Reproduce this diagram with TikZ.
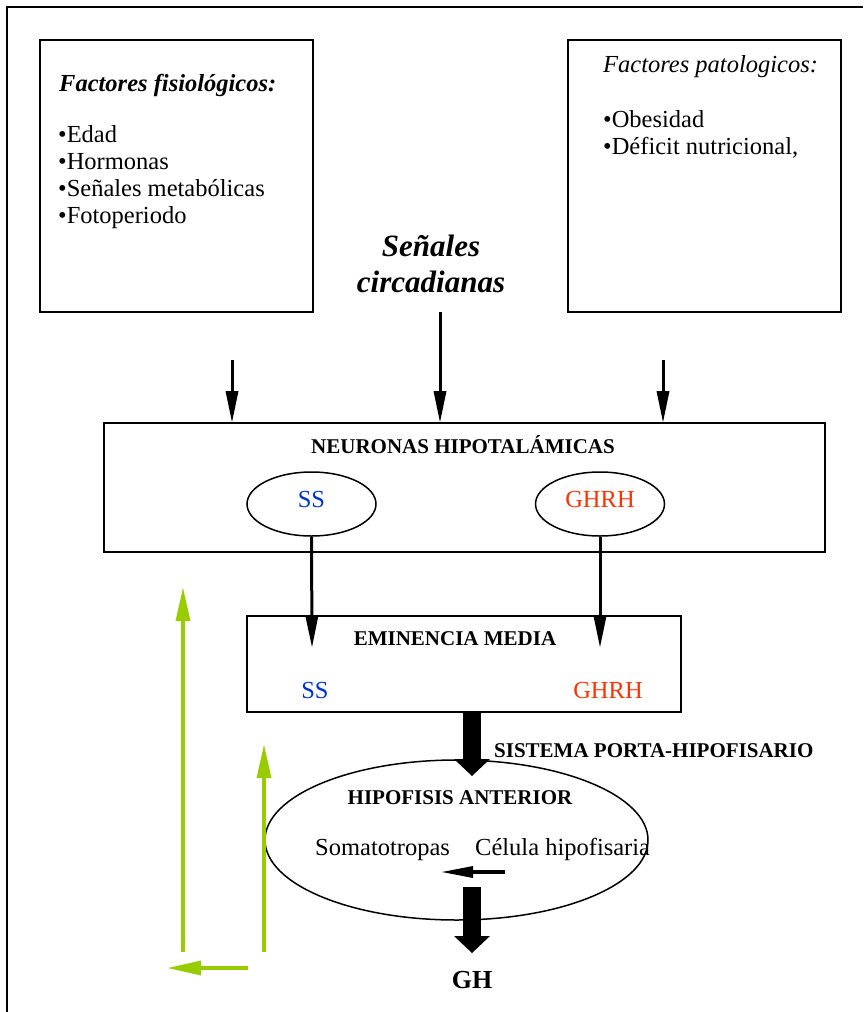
\documentclass[tikz,border=0pt]{standalone}
\usepackage{fontspec}
\setmainfont{Liberation Serif}
\usetikzlibrary{arrows.meta,shapes.geometric}
\definecolor{ssblue}{RGB}{0,51,204}
\definecolor{ghred}{RGB}{255,51,0}
\definecolor{fgreen}{RGB}{153,204,0}
\newcommand\fbody{\fontsize{24.5pt}{27pt}\selectfont}
\newcommand\fhead{\fontsize{21pt}{24pt}\selectfont\bfseries}
\newcommand\fbig{\fontsize{31pt}{36pt}\selectfont\bfseries\itshape}
\newcommand\fgh{\fontsize{26pt}{30pt}\selectfont\bfseries}
\begin{document}
\begin{tikzpicture}[x=1pt,y=-1pt,
  box/.style={draw, rectangle, line width=1.8pt, inner sep=0pt},
  ell/.style={draw, ellipse, line width=1.5pt, inner sep=0pt},
  txt/.style={inner sep=0pt, anchor=base west},
  ctxt/.style={inner sep=0pt, anchor=base},
  blk/.style={line width=3pt, -{Triangle[length=31pt,width=13pt,line width=0pt]}},
  grn/.style={draw=fgreen, line width=3.5pt, -{Triangle[length=33pt,width=15pt,line width=0pt]}},
  fat/.style={line width=18pt, -{Triangle[length=17pt,width=36pt,line width=0pt]}}]
\useasboundingbox (0,0) rectangle (863,1012);
% outer frame
\draw[line width=2pt] (7,1012) -- (7,7) -- (863,7);
% factor boxes
\node[box, minimum width=273, minimum height=272] (f1) at (176.5,176) {};
\node[box, minimum width=273, minimum height=272] (f2) at (704.5,176) {};
\node[txt] (f1t) at (59,91) {\fbody\bfseries\itshape Factores fisiológicos:};
\node[txt] (f1a) at (58,142) {\fbody •Edad};
\node[txt] (f1b) at (58,169) {\fbody •Hormonas};
\node[txt] (f1c) at (58,196) {\fbody •Señales metabólicas};
\node[txt] (f1d) at (58,223) {\fbody •Fotoperiodo};
\node[txt] (f2t) at (603,72) {\fbody\itshape Factores patologicos:};
\node[txt] (f2a) at (603,127) {\fbody •Obesidad};
\node[txt] (f2b) at (603,154) {\fbody •Déficit nutricional,};
% circadian
\node[ctxt] (sc1) at (431,256) {\fbig Señales};
\node[ctxt] (sc2) at (431,292) {\fbig circadianas};
% hypothalamic neurons
\node[box, minimum width=721, minimum height=129] (nh) at (464.5,487.5) {};
\node[ctxt] (nht) at (463,453) {\fhead NEURONAS HIPOTALÁMICAS};
\node[ell, minimum width=129, minimum height=64, text height=16pt, text depth=10pt, text=ssblue] (ss) at (311.5,504) {\fbody SS\hspace{12pt}};
\node[ell, minimum width=129, minimum height=64, text height=16pt, text depth=10pt, text=ghred] (gh1) at (600,504) {\fbody GHRH};
% eminencia media
\node[box, minimum width=434, minimum height=96] (em) at (464,664) {};
\node[ctxt] (emt) at (455,645) {\fhead EMINENCIA MEDIA};
\node[ctxt, text=ssblue] (ems) at (315,698) {\fbody SS};
\node[ctxt, text=ghred] (emg) at (608,698) {\fbody GHRH};
% portal system
\node[txt] (spt) at (494,757) {\fhead SISTEMA PORTA-HIPOFISARIO};
% anterior pituitary
\node[ell, minimum width=383, minimum height=160] (hp) at (456.5,840) {};
\node[ctxt] (hpt) at (460,804) {\fhead HIPOFISIS ANTERIOR};
\node[txt] (som) at (315,855) {\fbody Somatotropas};
\node[txt] (cel) at (475,855) {\fbody Célula hipofisaria};
\node[ctxt] (ght) at (472,988) {\fgh GH};
% coordinates
\coordinate (a1) at (232,360);
\coordinate (a2) at (440,312);
\coordinate (a3) at (663,360);
\coordinate (s1) at (312,647);
\coordinate (g1) at (600,647);
\coordinate (p1) at (472,776);
\coordinate (q0) at (472,887);
\coordinate (q1) at (472,953);
\coordinate (k0) at (505,872);
\coordinate (k1) at (442,872);
\coordinate (l0) at (183,952);
\coordinate (l1) at (183,588);
\coordinate (r0) at (264,952);
\coordinate (r1) at (264,745);
\coordinate (h0) at (248,968);
\coordinate (h1) at (168,968);
% connectors
\draw[blk] (a1) -- (a1 |- nh.north);
\draw[blk] (a2) -- (a2 |- nh.north);
\draw[blk] (a3) -- (a3 |- nh.north);
\draw[blk] (ss.south) -- (s1);
\draw[blk] (gh1.south) -- (g1);
\draw[fat] (em.south -| p1) -- (p1);
\draw[fat] (q0) -- (q1);
\draw[line width=3.5pt, -{Triangle[length=31pt,width=12pt,line width=0pt]}] (k0) -- (k1);
\draw[grn] (l0) -- (l1);
\draw[grn] (r0) -- (r1);
\draw[grn] (h0) -- (h1);
\end{tikzpicture}
\end{document}
